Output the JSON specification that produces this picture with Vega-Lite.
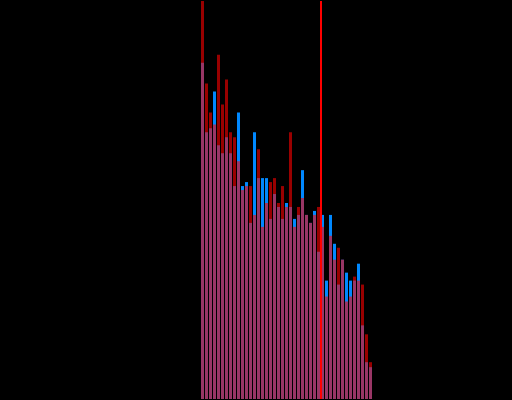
{
  "$schema": "https://vega.github.io/schema/vega-lite/v6.json",
  "width": 512,
  "height": 400,
  "padding": 0,
  "autosize": {"type": "fit", "contains": "padding"},
  "background": "#000000",
  "config": {"view": {"stroke": null}, "axis": {"disable": true}},
  "layer": [
    {
      "data": {"name": "hist"},
      "mark": {"type": "bar", "color": "#0088FF", "binSpacing": 1},
      "encoding": {
        "x": {"field": "bin_start", "type": "quantitative", "bin": "binned", "scale": {"domain": [-50, 78], "nice": false, "zero": false}},
        "x2": {"field": "bin_end"},
        "y": {"field": "blue", "type": "quantitative", "scale": {"domain": [0, 400], "nice": false}}
      }
    },
    {
      "data": {"name": "hist"},
      "mark": {"type": "bar", "color": "#FF0000", "opacity": 0.6, "binSpacing": 1},
      "encoding": {
        "x": {"field": "bin_start", "type": "quantitative", "bin": "binned"},
        "x2": {"field": "bin_end"},
        "y": {"field": "red", "type": "quantitative"}
      }
    },
    {
      "data": {"values": [{"threshold": 30.25}]},
      "mark": {"type": "rule", "color": "#FF0000", "strokeWidth": 2},
      "encoding": {
        "x": {"field": "threshold", "type": "quantitative"}
      }
    }
  ],
  "datasets": {
    "hist": [
      {"bin_start": 0, "bin_end": 1, "blue": 338, "red": 400},
      {"bin_start": 1, "bin_end": 2, "blue": 268, "red": 317},
      {"bin_start": 2, "bin_end": 3, "blue": 272, "red": 288},
      {"bin_start": 3, "bin_end": 4, "blue": 309, "red": 276},
      {"bin_start": 4, "bin_end": 5, "blue": 255, "red": 346},
      {"bin_start": 5, "bin_end": 6, "blue": 247, "red": 296},
      {"bin_start": 6, "bin_end": 7, "blue": 263, "red": 321},
      {"bin_start": 7, "bin_end": 8, "blue": 247, "red": 268},
      {"bin_start": 8, "bin_end": 9, "blue": 214, "red": 263},
      {"bin_start": 9, "bin_end": 10, "blue": 288, "red": 239},
      {"bin_start": 10, "bin_end": 11, "blue": 214, "red": 210},
      {"bin_start": 11, "bin_end": 12, "blue": 218, "red": 214},
      {"bin_start": 12, "bin_end": 13, "blue": 177, "red": 214},
      {"bin_start": 13, "bin_end": 14, "blue": 268, "red": 185},
      {"bin_start": 14, "bin_end": 15, "blue": 222, "red": 251},
      {"bin_start": 15, "bin_end": 16, "blue": 222, "red": 173},
      {"bin_start": 16, "bin_end": 17, "blue": 222, "red": 197},
      {"bin_start": 17, "bin_end": 18, "blue": 181, "red": 218},
      {"bin_start": 18, "bin_end": 19, "blue": 206, "red": 222},
      {"bin_start": 19, "bin_end": 20, "blue": 193, "red": 197},
      {"bin_start": 20, "bin_end": 21, "blue": 181, "red": 214},
      {"bin_start": 21, "bin_end": 22, "blue": 197, "red": 193},
      {"bin_start": 22, "bin_end": 23, "blue": 193, "red": 268},
      {"bin_start": 23, "bin_end": 24, "blue": 181, "red": 173},
      {"bin_start": 24, "bin_end": 25, "blue": 185, "red": 193},
      {"bin_start": 25, "bin_end": 26, "blue": 230, "red": 202},
      {"bin_start": 26, "bin_end": 27, "blue": 185, "red": 185},
      {"bin_start": 27, "bin_end": 28, "blue": 177, "red": 177},
      {"bin_start": 28, "bin_end": 29, "blue": 189, "red": 185},
      {"bin_start": 29, "bin_end": 30, "blue": 148, "red": 193},
      {"bin_start": 30, "bin_end": 31, "blue": 185, "red": 173},
      {"bin_start": 31, "bin_end": 32, "blue": 119, "red": 103},
      {"bin_start": 32, "bin_end": 33, "blue": 185, "red": 164},
      {"bin_start": 33, "bin_end": 34, "blue": 156, "red": 140},
      {"bin_start": 34, "bin_end": 35, "blue": 115, "red": 152},
      {"bin_start": 35, "bin_end": 36, "blue": 140, "red": 140},
      {"bin_start": 36, "bin_end": 37, "blue": 127, "red": 98},
      {"bin_start": 37, "bin_end": 38, "blue": 119, "red": 103},
      {"bin_start": 38, "bin_end": 39, "blue": 119, "red": 123},
      {"bin_start": 39, "bin_end": 40, "blue": 136, "red": 119},
      {"bin_start": 40, "bin_end": 41, "blue": 74, "red": 115},
      {"bin_start": 41, "bin_end": 42, "blue": 37, "red": 65},
      {"bin_start": 42, "bin_end": 43, "blue": 32, "red": 37}
    ]
  }
}
